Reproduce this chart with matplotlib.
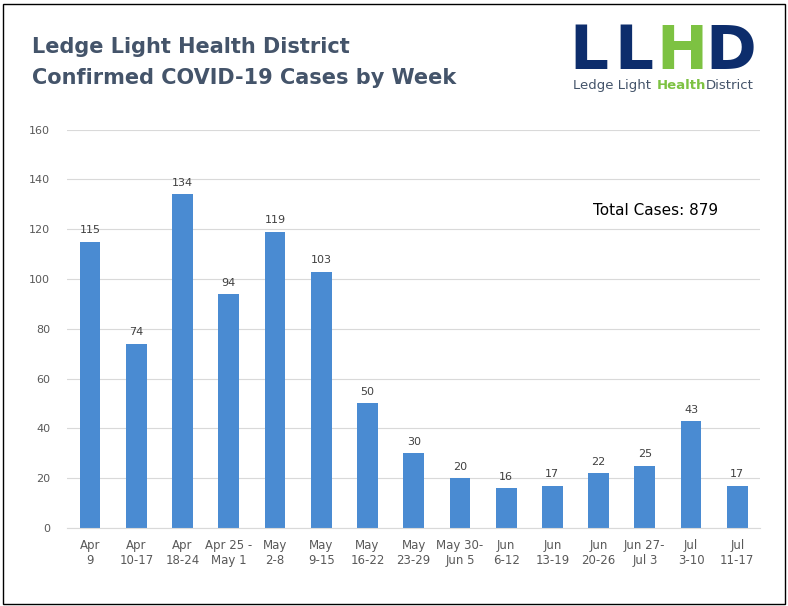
import matplotlib.pyplot as plt
from matplotlib.patches import Rectangle

weeks = ["Apr\n9", "Apr\n10-17", "Apr\n18-24", "Apr 25 -\nMay 1", "May\n2-8", "May\n9-15",
         "May\n16-22", "May\n23-29", "May 30-\nJun 5", "Jun\n6-12", "Jun\n13-19", "Jun\n20-26",
         "Jun 27-\nJul 3", "Jul\n3-10", "Jul\n11-17"]
cases = [115, 74, 134, 94, 119, 103, 50, 30, 20, 16, 17, 22, 25, 43, 17]

fig = plt.figure(figsize=(7.88, 6.06), dpi=100)
fig.patches.append(Rectangle((0.004, 0.004), 0.992, 0.99, transform=fig.transFigure,
                             fill=False, edgecolor='black', linewidth=1))

ax = fig.add_axes([0.085, 0.129, 0.88, 0.657])
x = range(len(cases))
ax.bar(x, cases, width=0.45, color='#4a8bd2', zorder=2)
for i, v in enumerate(cases):
    ax.text(i, v + 2.5, str(v), ha='center', va='bottom', fontsize=8, color='#404040')

ax.set_ylim(0, 160)
ax.set_yticks(range(0, 161, 20))
ax.set_xlim(-0.5, len(cases) - 0.5)
ax.set_xticks(list(x))
ax.set_xticklabels(weeks, fontsize=8.5, color='#595959')
ax.tick_params(axis='y', labelsize=8, colors='#595959', length=0, pad=12)
ax.tick_params(axis='x', length=0, pad=8)
ax.grid(axis='y', color='#d9d9d9', linewidth=0.8, zorder=0)
for s in ['top', 'right', 'left']:
    ax.spines[s].set_visible(False)
ax.spines['bottom'].set_color('#d9d9d9')

fig.text(0.753, 0.652, "Total Cases: 879", fontsize=11, color='black', va='center')

fig.text(0.04, 0.922, "Ledge Light Health District", fontsize=15, fontweight='bold',
         color='#44546a', va='center')
fig.text(0.04, 0.871, "Confirmed COVID-19 Cases by Week", fontsize=15, fontweight='bold',
         color='#44546a', va='center')

# logo
logo = [("L", 0.747, '#0d2d6c'), ("L", 0.805, '#0d2d6c'), ("H", 0.865, '#7dc242'), ("D", 0.928, '#0d2d6c')]
for ch, xp, col in logo:
    fig.text(xp, 0.913, ch, fontsize=44, fontweight='bold', color=col, ha='center', va='center',
             family='DejaVu Sans')
fig.text(0.727, 0.859, "Ledge Light", fontsize=9.5, color='#44546a', va='center')
fig.text(0.833, 0.859, "Health", fontsize=9.5, fontweight='bold', color='#7dc242', va='center')
fig.text(0.896, 0.859, "District", fontsize=9.5, color='#44546a', va='center')

fig.savefig("out.png", dpi=100)
